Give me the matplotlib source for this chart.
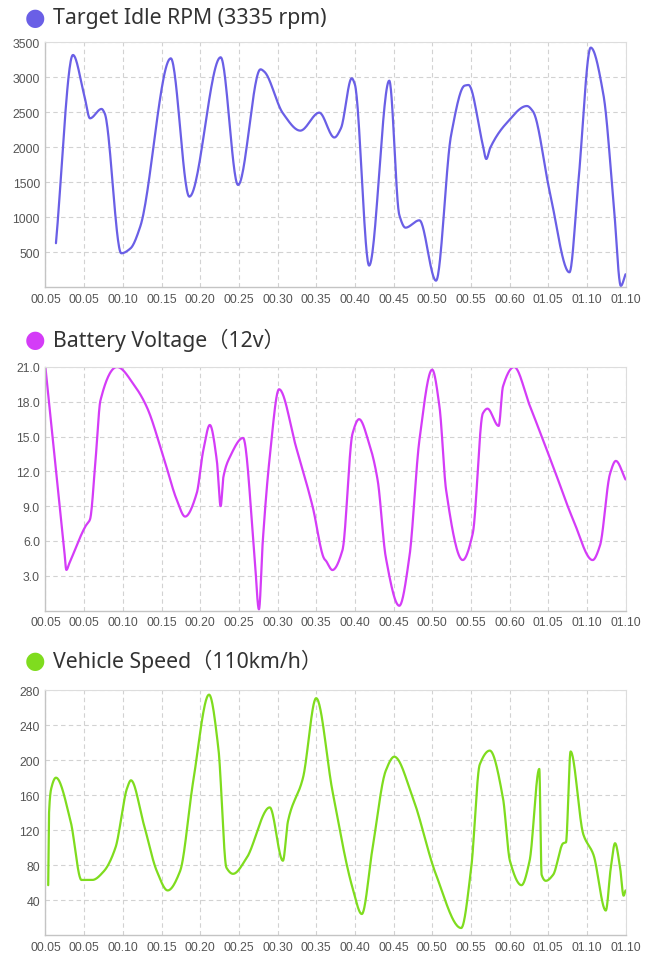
import numpy as np
import matplotlib
matplotlib.use("Agg")
import matplotlib.pyplot as plt

# x positions are in units of the category ticks (0 = first "00.05" label)
tick_labels = ["00.05", "00.05", "00.10", "00.15", "00.20", "00.25", "00.30", "00.35",
               "00.40", "00.45", "00.50", "00.55", "00.60", "01.05", "01.10", "01.10"]

rpm_x = [0.27, 0.71, 1.0, 1.15, 1.45, 1.53, 1.96, 2.2, 2.45, 3.24, 3.72, 4.53, 4.98,
         5.56, 5.66, 6.14, 6.59, 7.08, 7.47, 7.64, 7.92, 8.0, 8.37, 8.89, 9.15, 9.31,
         9.67, 10.10, 10.49, 10.84, 10.94, 11.30, 11.40, 11.50, 11.92, 12.45, 12.61,
         13.04, 13.55, 13.78, 14.10, 14.43, 14.69, 14.88, 15.0]
rpm_y = [630, 3319, 2748, 2414, 2548, 2486, 486, 557, 867, 3271, 1295, 3286, 1462,
         3114, 3080, 2486, 2238, 2495, 2140, 2271, 2986, 2900, 310, 2952, 1033, 852,
         957, 95, 2176, 2881, 2890, 2060, 1833, 1990, 2343, 2590, 2510,
         1367, 214, 1500, 3424, 2748, 1224, 20, 186]

volt_x = [0.0, 0.48, 0.54, 0.62, 1.04, 1.15, 1.30, 1.42, 1.85, 2.32, 2.62, 3.05, 3.40,
          3.61, 3.91, 4.08, 4.25, 4.43, 4.53, 4.60, 4.77, 5.11, 5.40, 5.52, 5.62, 5.80,
          6.04, 6.48, 6.91, 7.21, 7.25, 7.42, 7.68, 7.94, 8.11, 8.37, 8.59, 8.80, 9.15,
          9.41, 9.67, 10.0, 10.19, 10.36, 10.79, 11.05, 11.31, 11.43, 11.72, 11.83,
          12.12, 12.52, 13.13, 13.65, 14.15, 14.34, 14.60, 14.75, 15.0]
volt_y = [20.9, 5.4, 3.5, 4.1, 7.3, 7.85, 13.25, 18.1, 21.0, 19.3, 17.55, 13.25, 9.5,
          8.1, 10.1, 13.8, 16.0, 12.96, 9.0, 11.5, 13.25, 14.88, 5.0, 0.1, 6.0, 13.25,
          19.08, 14.1, 8.94, 4.45, 4.3, 3.49, 5.2, 15.26, 16.5, 14.4, 11.24, 4.6, 0.41,
          4.6, 14.7, 20.77, 17.55, 10.4, 4.35, 6.65, 17.0, 17.41, 15.92, 19.3,
          21.0, 17.7, 12.4, 7.8, 4.35, 5.6, 11.8, 12.9, 11.3]

speed_x = [0.07, 0.09, 0.15, 0.27, 0.65, 0.93, 1.21, 1.51, 1.81, 2.11, 2.21, 2.54, 2.88,
           3.16, 3.48, 3.82, 4.23, 4.47, 4.68, 4.85, 5.20, 5.80, 6.14, 6.27, 6.66, 7.0,
           7.42, 7.94, 8.18, 8.46, 8.80, 9.02, 9.50, 10.10, 10.75, 11.01, 11.23, 11.49,
           11.83, 12.01, 12.31, 12.52, 12.77, 12.83, 12.94, 13.13, 13.39, 13.46, 13.58,
           13.91, 14.17, 14.49, 14.62, 14.73, 14.86, 14.95, 15.0]
speed_y = [57, 138, 168, 180, 130, 63, 63, 73, 100, 168, 177, 127, 73,
           51, 73, 176, 275, 214, 77, 70, 88, 146, 85, 130, 180, 271,
           165, 54, 24, 100, 188, 204, 157, 69, 8, 77, 195, 211,
           157, 85, 57, 85, 190, 69, 62, 69, 105, 106, 210,
           115, 92, 28, 77, 105, 77, 45, 51]

panels = [
    ("Target Idle RPM (3335 rpm)", rpm_x, rpm_y, "#6a5fe6", (0, 3500), np.arange(500, 3501, 500), "%d"),
    ("Battery Voltage（12v）", volt_x, volt_y, "#d43cf7", (0, 21), np.arange(3, 21.1, 3), "%.1f"),
    ("Vehicle Speed（110km/h）", speed_x, speed_y, "#7fdc1e", (0, 280), np.arange(40, 281, 40), "%d"),
]


def smooth(x, y, n=30):
    # monotone cubic hermite, only for drawing a smooth line through the nodes
    x = np.asarray(x, float)
    y = np.asarray(y, float)
    h = np.diff(x)
    d = np.diff(y) / h
    m = np.zeros_like(y)
    m[0], m[-1] = d[0], d[-1]
    for i in range(1, len(x) - 1):
        if d[i - 1] * d[i] > 0:
            w1 = 2 * h[i] + h[i - 1]
            w2 = h[i] + 2 * h[i - 1]
            m[i] = (w1 + w2) / (w1 / d[i - 1] + w2 / d[i])
    xs, ys = [], []
    for i in range(len(x) - 1):
        t = np.linspace(0, 1, n, endpoint=False)
        h00 = 2 * t**3 - 3 * t**2 + 1
        h10 = t**3 - 2 * t**2 + t
        h01 = -2 * t**3 + 3 * t**2
        h11 = t**3 - t**2
        xs.append(x[i] + t * h[i])
        ys.append(h00 * y[i] + h10 * h[i] * m[i] + h01 * y[i + 1] + h11 * h[i] * m[i + 1])
    xs.append([x[-1]])
    ys.append([y[-1]])
    return np.concatenate(xs), np.concatenate(ys)


fig = plt.figure(figsize=(6.46, 9.54), dpi=100)
W, H = 646.0, 954.0
boxes = [(43.3, 288.3), (368.0, 611.5), (691.3, 936.0)]
title_y = [18.5, 340.5, 661.0]
left, right = 45.5, 625.5

tick_font = ["Liberation Sans", "DejaVu Sans"]
title_font = ["Noto Sans", "Noto Sans CJK SC", "DejaVu Sans"]

for (title, xs, ys, color, ylim, yticks, fmt), (top, bot), ty in zip(panels, boxes, title_y):
    ax = fig.add_axes([left / W, 1 - bot / H, (right - left) / W, (bot - top) / H])
    sx, sy = smooth(xs, ys)
    ax.plot(sx, sy, color=color, lw=1.6, solid_capstyle="round")
    ax.set_xlim(0, 15)
    ax.set_ylim(*ylim)
    ax.set_xticks(range(len(tick_labels)))
    ax.set_xticklabels(tick_labels)
    ax.set_yticks(yticks)
    ax.set_yticklabels([fmt % v for v in yticks])
    ax.tick_params(length=0, pad=4, labelsize=8.8, labelcolor="#555555")
    for lab in ax.get_xticklabels() + ax.get_yticklabels():
        lab.set_family(tick_font)
    ax.grid(True, color="#d2d2d2", linestyle=(0, (4, 3)), linewidth=0.8)
    ax.set_axisbelow(True)
    for s in ["left", "bottom"]:
        ax.spines[s].set_color("#c4c4c4")
        ax.spines[s].set_linewidth(1.0)
    for s in ["top", "right"]:
        ax.spines[s].set_color("#dddddd")
        ax.spines[s].set_linewidth(0.8)

    fig.text(35.5 / W, 1 - ty / H, "\u25cf", color=color, fontsize=17,
             ha="center", va="center", family=["DejaVu Sans"])
    fig.text(53 / W, 1 - ty / H, title, color="#333333", fontsize=15.3,
             ha="left", va="center", family=title_font)

fig.savefig("out.png", dpi=100)
